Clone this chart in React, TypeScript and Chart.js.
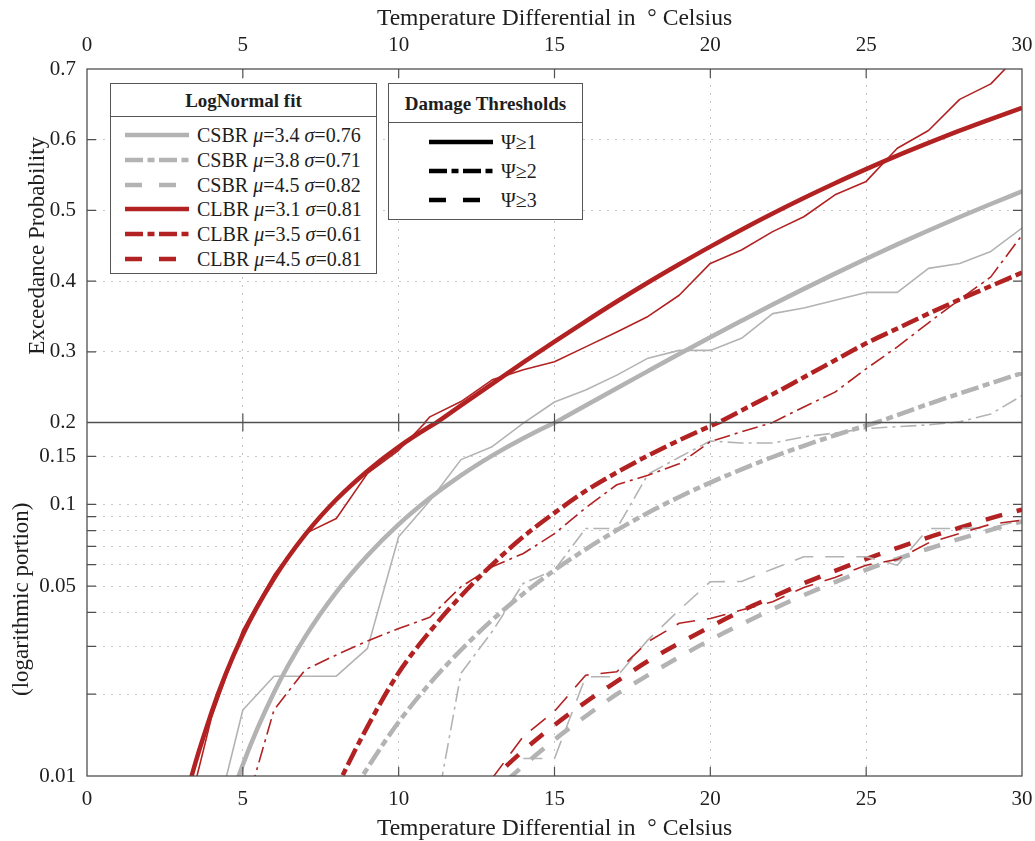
import React, { useEffect, useRef } from 'react';
import { Chart, registerables } from 'chart.js';

Chart.register(...registerables);

const SERIF = "'Liberation Serif', 'Times New Roman', Times, serif";
const GREY = '#b3b3b3';
const RED = '#b22222';
const TEXT = '#1e1e1e';
const FRAME = '#505050';
const GRID = '#c8c8c8';

// ---------- data ----------
const temps = [0, 1, 2, 3, 4, 5, 6, 7, 8, 9, 10, 11, 12, 13, 14, 15, 16, 17, 18, 19, 20, 21, 22, 23, 24, 25, 26, 27, 28, 29, 30];

// empirical exceedance (thin lines)
const empCsbr1 = [null, null, null, null, 0.006, 0.0175, 0.0233, 0.0233, 0.0233, 0.0295, 0.0759, 0.103, 0.146, 0.163, 0.199, 0.229, 0.246, 0.267, 0.291, 0.302, 0.302, 0.319, 0.354, 0.362, 0.373, 0.384, 0.384, 0.418, 0.425, 0.442, 0.475];
const empCsbr2 = [null, null, null, null, null, null, null, null, null, null, null, 0.0056, 0.0239, 0.034, 0.0512, 0.0573, 0.0815, 0.0815, 0.129, 0.149, 0.171, 0.168, 0.168, 0.177, 0.183, 0.19, 0.193, 0.196, 0.201, 0.212, 0.238];
const empCsbr3 = [null, null, null, null, null, null, null, null, null, null, null, null, null, null, 0.0116, 0.0116, 0.0232, 0.0232, 0.0317, 0.0408, 0.0519, 0.052, 0.0578, 0.0641, 0.0641, 0.0641, 0.0597, 0.0815, 0.0815, 0.082, 0.0874];
const empClbr1 = [null, null, null, 0.0057, 0.0165, 0.0345, 0.055, 0.078, 0.0887, 0.13, 0.158, 0.208, 0.2296, 0.2603, 0.2745, 0.286, 0.307, 0.328, 0.35, 0.38, 0.425, 0.444, 0.47, 0.491, 0.522, 0.541, 0.588, 0.613, 0.657, 0.679, 0.725];
const empClbr2 = [null, null, null, null, null, 0.007, 0.0175, 0.0246, 0.0279, 0.0314, 0.0349, 0.0384, 0.0497, 0.0589, 0.0659, 0.078, 0.097, 0.118, 0.128, 0.141, 0.17, 0.185, 0.2, 0.222, 0.243, 0.276, 0.307, 0.341, 0.374, 0.406, 0.465];
const empClbr3 = [null, null, null, null, null, null, null, null, null, null, null, null, null, 0.0098, 0.014, 0.0173, 0.0235, 0.0242, 0.0312, 0.0365, 0.038, 0.0408, 0.0438, 0.0494, 0.0538, 0.0597, 0.0627, 0.0721, 0.0781, 0.0845, 0.0874];

// LogNormal fits (thick lines)
const fitCsbr1 = [null, null, null, 0.0015, 0.0049, 0.011, 0.0203, 0.0325, 0.0475, 0.0648, 0.0843, 0.1054, 0.1278, 0.1511, 0.1751, 0.1995, 0.224, 0.2485, 0.2728, 0.297, 0.3207, 0.3439, 0.3668, 0.389, 0.4106, 0.4316, 0.4519, 0.4716, 0.4907, 0.5091, 0.5269];
const fitCsbr2 = [null, null, null, null, null, null, null, 0.004, 0.0069, 0.0107, 0.0158, 0.0219, 0.0291, 0.0375, 0.0469, 0.0572, 0.0683, 0.0803, 0.0931, 0.1064, 0.1202, 0.1344, 0.1493, 0.1642, 0.1795, 0.195, 0.2104, 0.2262, 0.241, 0.2555, 0.27];
const fitCsbr3 = [null, null, null, null, null, null, null, null, null, null, null, null, 0.0066, 0.0086, 0.0109, 0.0136, 0.0166, 0.02, 0.0235, 0.0274, 0.0317, 0.0362, 0.0411, 0.0463, 0.0517, 0.0574, 0.063, 0.0686, 0.0746, 0.0805, 0.0865];
const fitClbr1 = [null, null, 0.0015, 0.0068, 0.0172, 0.0331, 0.0533, 0.0773, 0.1041, 0.1327, 0.1627, 0.1933, 0.2241, 0.2547, 0.2849, 0.3143, 0.3431, 0.3711, 0.398, 0.4238, 0.4488, 0.4727, 0.4956, 0.5175, 0.5384, 0.5583, 0.5774, 0.5954, 0.6128, 0.6292, 0.6449];
const fitClbr2 = [null, null, null, null, null, null, null, 0.005, 0.009, 0.0152, 0.024, 0.034, 0.046, 0.06, 0.076, 0.093, 0.112, 0.131, 0.151, 0.172, 0.194, 0.217, 0.24, 0.264, 0.288, 0.312, 0.333, 0.354, 0.374, 0.393, 0.412];
const fitClbr3 = [null, null, null, null, null, null, null, null, null, null, null, null, 0.0074, 0.0097, 0.0124, 0.0154, 0.0187, 0.0223, 0.0265, 0.0308, 0.0354, 0.0405, 0.0456, 0.0512, 0.0569, 0.0629, 0.0691, 0.0756, 0.082, 0.089, 0.0956];

// ticks
const xTickValues = [0, 5, 10, 15, 20, 25, 30];
const topTickValues = [0.2, 0.3, 0.4, 0.5, 0.6, 0.7];
const topTickLabels = ['', '0.3', '0.4', '0.5', '0.6', '0.7'];
const logTickValues = [0.01, 0.02, 0.03, 0.04, 0.05, 0.06, 0.07, 0.08, 0.09, 0.1, 0.15, 0.2];
const logTickLabels = ['0.01', '', '', '', '0.05', '', '', '', '', '0.1', '0.15', '0.2'];

// legend texts
const fitGroups = ['CSBR', 'CSBR', 'CSBR', 'CLBR', 'CLBR', 'CLBR'];
const fitMu = ['3.4', '3.8', '4.5', '3.1', '3.5', '4.5'];
const fitSigma = ['0.76', '0.71', '0.82', '0.81', '0.61', '0.81'];
const thresholdLabels = ['Ψ≥1', 'Ψ≥2', 'Ψ≥3'];

const xTitle = 'Temperature Differential in  ° Celsius';
const yTopTitle = 'Exceedance Probability';
const yBotTitle = '(logarithmic portion)';

// ---------- styles ----------
const THICK = 4.5;
const THIN = 1.6;
const THICK_DASH = [[], [18, 4.5, 7, 4.5], [17, 15]];
const THIN_DASH = [[], [16, 5, 3, 5], [19, 12]];
const SVG_DASH = [undefined, '18 4.5 7 4.5', '17 17'];

const series = [
  { label: 'CLBR Ψ≥1 data', data: empClbr1, color: RED, width: THIN, dash: THIN_DASH[0], smooth: false },
  { label: 'CLBR Ψ≥2 data', data: empClbr2, color: RED, width: THIN, dash: THIN_DASH[1], smooth: false },
  { label: 'CLBR Ψ≥3 data', data: empClbr3, color: RED, width: THIN, dash: THIN_DASH[2], smooth: false },
  { label: 'CSBR Ψ≥1 data', data: empCsbr1, color: GREY, width: THIN, dash: THIN_DASH[0], smooth: false },
  { label: 'CSBR Ψ≥2 data', data: empCsbr2, color: GREY, width: THIN, dash: THIN_DASH[1], smooth: false },
  { label: 'CSBR Ψ≥3 data', data: empCsbr3, color: GREY, width: THIN, dash: THIN_DASH[2], smooth: false },
  { label: 'CLBR Ψ≥1 fit', data: fitClbr1, color: RED, width: THICK, dash: THICK_DASH[0], smooth: true },
  { label: 'CLBR Ψ≥2 fit', data: fitClbr2, color: RED, width: THICK, dash: THICK_DASH[1], smooth: true },
  { label: 'CLBR Ψ≥3 fit', data: fitClbr3, color: RED, width: THICK, dash: THICK_DASH[2], smooth: true },
  { label: 'CSBR Ψ≥1 fit', data: fitCsbr1, color: GREY, width: THICK, dash: THICK_DASH[0], smooth: true },
  { label: 'CSBR Ψ≥2 fit', data: fitCsbr2, color: GREY, width: THICK, dash: THICK_DASH[1], smooth: true },
  { label: 'CSBR Ψ≥3 fit', data: fitCsbr3, color: GREY, width: THICK, dash: THICK_DASH[2], smooth: true },
];

function buildDatasets() {
  const out: any[] = [];
  series.forEach((s) => {
    ['yTop', 'yBot'].forEach((axis) => {
      out.push({
        label: s.label,
        data: temps.map((t, i) => ({ x: t, y: s.data[i] })),
        xAxisID: 'x',
        yAxisID: axis,
        borderColor: s.color,
        backgroundColor: s.color,
        borderWidth: s.width,
        borderDash: s.dash,
        pointRadius: 0,
        pointHoverRadius: 0,
        fill: false,
        spanGaps: false,
        tension: 0,
        cubicInterpolationMode: s.smooth ? 'monotone' : 'default',
        capBezierPoints: false,
        borderJoinStyle: 'round',
      });
    });
  });
  return out;
}

// clip each dataset to the panel of its own y axis
const panelClip = {
  id: 'panelClip',
  beforeDatasetDraw(chart: any, args: any) {
    const ys = chart.scales[args.meta.yAxisID];
    const { ctx, chartArea } = chart;
    ctx.save();
    ctx.beginPath();
    ctx.rect(chartArea.left, ys.top, chartArea.right - chartArea.left, ys.bottom - ys.top);
    ctx.clip();
  },
  afterDatasetDraw(chart: any) {
    chart.ctx.restore();
  },
};

// box frame, panel separator and inward tick marks
const framePlugin = {
  id: 'frame',
  afterDatasetsDraw(chart: any) {
    const { ctx, chartArea: a, scales } = chart;
    const xs = scales.x;
    const yt = scales.yTop;
    const yb = scales.yBot;
    const sep = yb.top;
    const L = 9;
    ctx.save();
    ctx.strokeStyle = FRAME;
    ctx.lineWidth = 1.3;
    ctx.strokeRect(a.left, a.top, a.right - a.left, a.bottom - a.top);
    ctx.beginPath();
    ctx.moveTo(a.left, sep);
    ctx.lineTo(a.right, sep);
    ctx.stroke();
    ctx.lineWidth = 1.2;
    ctx.beginPath();
    xTickValues.forEach((v) => {
      if (v <= xTickValues[0] || v >= xTickValues[xTickValues.length - 1]) return;
      const px = xs.getPixelForValue(v);
      ctx.moveTo(px, a.top); ctx.lineTo(px, a.top + L);
      ctx.moveTo(px, sep - L); ctx.lineTo(px, sep + L);
      ctx.moveTo(px, a.bottom); ctx.lineTo(px, a.bottom - L);
    });
    topTickValues.slice(1, -1).forEach((v) => {
      const py = yt.getPixelForValue(v);
      ctx.moveTo(a.left, py); ctx.lineTo(a.left + L, py);
      ctx.moveTo(a.right, py); ctx.lineTo(a.right - L, py);
    });
    logTickValues.slice(1, -1).forEach((v) => {
      const py = yb.getPixelForValue(v);
      ctx.moveTo(a.left, py); ctx.lineTo(a.left + L, py);
      ctx.moveTo(a.right, py); ctx.lineTo(a.right - L, py);
    });
    ctx.stroke();
    ctx.restore();
  },
};

const tickFont = { size: 21, family: SERIF };
const titleFont = { size: 23, family: SERIF, lineHeight: 1 };
const xTitleFont = { size: 23.6, family: SERIF, lineHeight: 1 };
const TRANSPARENT = 'rgba(0,0,0,0)';

function edgeColor(values: number[]) {
  const lo = values[0];
  const hi = values[values.length - 1];
  return (c: any) => {
    const v = c.tick ? c.tick.value : NaN;
    if (Math.abs(v - lo) < 1e-9 || Math.abs(v - hi) < 1e-9) return TRANSPARENT;
    return GRID;
  };
}

function xAxis(position: 'top' | 'bottom') {
  return {
    type: 'linear',
    position,
    min: 0,
    max: 30,
    afterBuildTicks: (s: any) => { s.ticks = xTickValues.map((v) => ({ value: v })); },
    afterFit: (s: any) => {
      s.height = position === 'top' ? 69 : 65;
      s.paddingLeft = 0;
      s.paddingRight = 0;
    },
    ticks: { callback: (v: any) => String(v), font: tickFont, color: TEXT, padding: 11, autoSkip: false, maxRotation: 0 },
    grid: { display: position === 'bottom', drawTicks: false, color: edgeColor(xTickValues), lineWidth: 1 },
    border: { display: false, dash: [2, 6] },
    title: {
      display: true,
      text: xTitle,
      font: xTitleFont,
      color: TEXT,
      padding: position === 'top' ? { top: 6.5, bottom: 0 } : { top: 0, bottom: 0 },
    },
  };
}

export default function App() {
  const ref = useRef<HTMLCanvasElement>(null);

  useEffect(() => {
    if (!ref.current) return;
    Chart.defaults.font.family = SERIF;
    const chart = new Chart(ref.current, {
      type: 'line',
      data: { datasets: buildDatasets() },
      options: {
        responsive: false,
        maintainAspectRatio: false,
        animation: false,
        devicePixelRatio: 1,
        events: [],
        layout: { padding: { left: 0, top: 0, right: 13, bottom: 0 } },
        plugins: { legend: { display: false }, tooltip: { enabled: false } },
        scales: {
          x: xAxis('bottom'),
          x2: xAxis('top'),
          yTop: {
            type: 'linear',
            position: 'left',
            stack: 'panels',
            stackWeight: 1,
            weight: 1,
            min: 0.2,
            max: 0.7,
            afterBuildTicks: (s: any) => { s.ticks = topTickValues.map((v) => ({ value: v })); },
            afterFit: (s: any) => { s.width = 87; },
            ticks: { callback: (_v: any, i: number) => topTickLabels[i], font: tickFont, color: TEXT, padding: 11, autoSkip: false },
            grid: { drawTicks: false, color: edgeColor(topTickValues), lineWidth: 1 },
            border: { display: false, dash: [2, 6] },
            title: { display: true, text: yTopTitle, font: titleFont, color: TEXT, padding: { top: 26.5, bottom: 0 } },
          },
          yBot: {
            type: 'logarithmic',
            position: 'left',
            stack: 'panels',
            stackWeight: 1,
            weight: 0,
            min: 0.01,
            max: 0.2,
            afterBuildTicks: (s: any) => { s.ticks = logTickValues.map((v) => ({ value: v })); },
            afterFit: (s: any) => { s.width = 87; },
            ticks: { callback: (_v: any, i: number) => logTickLabels[i], font: tickFont, color: TEXT, padding: 11, autoSkip: false },
            grid: { drawTicks: false, color: edgeColor(logTickValues), lineWidth: 1 },
            border: { display: false, dash: [2, 6] },
            title: { display: true, text: yBotTitle, font: titleFont, color: TEXT, padding: { top: 10.5, bottom: 0 } },
          },
        },
      } as any,
      plugins: [panelClip, framePlugin],
    } as any);
    return () => chart.destroy();
  }, []);

  const boxStyle: React.CSSProperties = {
    position: 'absolute',
    background: '#fff',
    border: '1px solid #555',
    boxSizing: 'border-box',
    fontFamily: SERIF,
    color: TEXT,
    zIndex: 2,
  };

  return (
    <div style={{ position: 'absolute', left: 0, top: 0, width: 1035, height: 841, background: '#fff', overflow: 'hidden' }}>
      <canvas ref={ref} width={1035} height={841} style={{ position: 'absolute', left: 0, top: 0, width: 1035, height: 841 }} />

      {/* LogNormal fit legend */}
      <div style={{ ...boxStyle, left: 110, top: 83, width: 267, height: 191 }}>
        <div style={{ position: 'absolute', left: 0, top: 0, width: '100%', height: 33, borderBottom: '1px solid #555', boxSizing: 'border-box', textAlign: 'center', fontWeight: 'bold', fontSize: 19, lineHeight: '33px' }}>
          LogNormal fit
        </div>
        {fitGroups.map((g, i) => {
          const cy = 51 + 24.8 * i;
          const color = i < 3 ? GREY : RED;
          return (
            <React.Fragment key={i}>
              <svg width={64} height={10} style={{ position: 'absolute', left: 14, top: cy - 5 }}>
                <line x1={0} y1={5} x2={64} y2={5} stroke={color} strokeWidth={4.5} strokeDasharray={SVG_DASH[i % 3]} />
              </svg>
              <div style={{ position: 'absolute', left: 86, top: cy - 12, height: 24, lineHeight: '24px', fontSize: 20, whiteSpace: 'nowrap' }}>
                {g} <i>μ</i>={fitMu[i]} <i>σ</i>={fitSigma[i]}
              </div>
            </React.Fragment>
          );
        })}
      </div>

      {/* Damage thresholds legend */}
      <div style={{ ...boxStyle, left: 388, top: 83, width: 195, height: 137 }}>
        <div style={{ position: 'absolute', left: 0, top: 0, width: '100%', height: 39, borderBottom: '1px solid #555', boxSizing: 'border-box', textAlign: 'center', fontWeight: 'bold', fontSize: 19, lineHeight: '39px' }}>
          Damage Thresholds
        </div>
        {thresholdLabels.map((t, i) => {
          const cy = 58 + 29 * i;
          return (
            <React.Fragment key={i}>
              <svg width={64} height={10} style={{ position: 'absolute', left: 40, top: cy - 5 }}>
                <line x1={0} y1={5} x2={64} y2={5} stroke="#000" strokeWidth={4.5} strokeDasharray={SVG_DASH[i]} />
              </svg>
              <div style={{ position: 'absolute', left: 112, top: cy - 12, height: 24, lineHeight: '24px', fontSize: 20, whiteSpace: 'nowrap' }}>
                {t}
              </div>
            </React.Fragment>
          );
        })}
      </div>
    </div>
  );
}
